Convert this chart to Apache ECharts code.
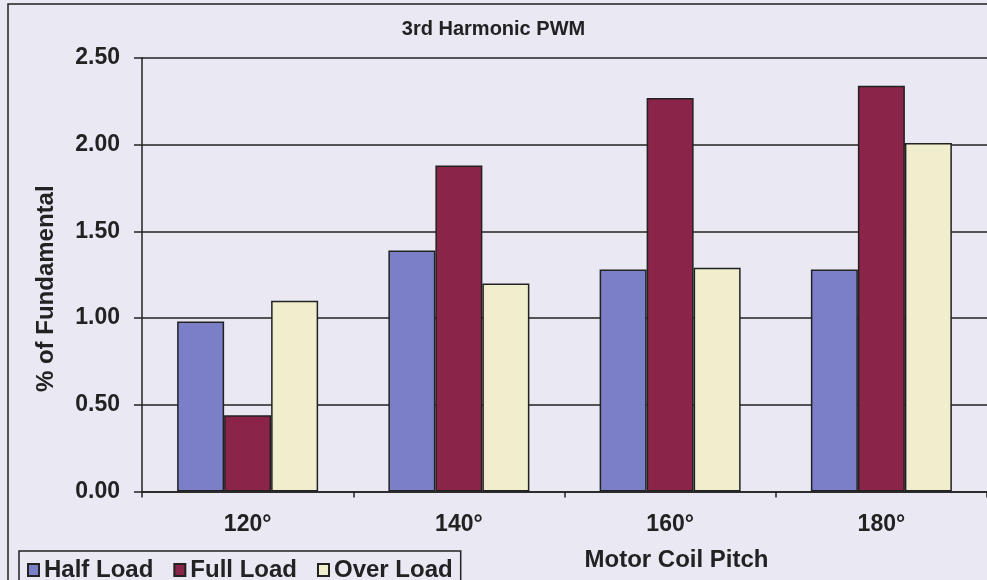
<!DOCTYPE html>
<html>
<head>
<meta charset="utf-8">
<script src="https://cdn.jsdelivr.net/npm/echarts@6/dist/echarts.min.js"></script>
<style>
  html, body { margin: 0; padding: 0; background: #e9e8f3; }
  #main { width: 987px; height: 580px; }
</style>
</head>
<body>
<div id="main"></div>
<script>
var categories = ['120°', '140°', '160°', '180°'];
var halfLoad = [0.98, 1.39, 1.28, 1.28];
var fullLoad = [0.44, 1.88, 2.27, 2.34];
var overLoad = [1.10, 1.20, 1.29, 2.01];
var yTicks = [0, 0.5, 1.0, 1.5, 2.0, 2.5];

var font = "'Liberation Sans', Arial, sans-serif";
var ink = '#222';

var myChart = echarts.init(document.getElementById('main'));

function barSeries(name, data, color) {
    return {
        name: name,
        type: 'bar',
        data: data,
        barWidth: 47,
        barGap: '0%',
        itemStyle: { color: color, borderColor: ink, borderWidth: 1.5 }
    };
}

var option = {
    backgroundColor: '#e9e8f3',
    animation: false,
    title: {
        text: '3rd Harmonic PWM',
        left: 'center',
        top: 14,
        textStyle: { fontFamily: font, fontSize: 20, fontWeight: 'bold', color: ink }
    },
    legend: {
        data: ['Half Load', 'Full Load', 'Over Load'],
        left: 19,
        top: 551,
        icon: 'rect',
        itemWidth: 11,
        itemHeight: 12,
        itemGap: 20,
        padding: [7, 8, 10, 8],
        borderColor: ink,
        borderWidth: 1.5,
        textStyle: { fontFamily: font, fontSize: 24, fontWeight: 'bold', color: ink }
    },
    grid: { left: 142, right: -3, top: 58, bottom: 88.5, containLabel: false },
    xAxis: {
        type: 'category',
        data: categories,
        name: 'Motor Coil Pitch',
        nameLocation: 'middle',
        nameGap: 57,
        nameTextStyle: { fontFamily: font, fontSize: 24, fontWeight: 'bold', color: ink, padding: [0, 0, 0, 224] },
        axisLine: { lineStyle: { color: ink, width: 1.5 } },
        axisTick: { show: true, length: 6, lineStyle: { color: ink, width: 1.5 } },
        axisLabel: { margin: 22, fontFamily: font, fontSize: 23, fontWeight: 'bold', color: ink }
    },
    yAxis: {
        type: 'value',
        min: 0,
        max: 2.5,
        interval: 0.5,
        name: '% of Fundamental',
        nameLocation: 'middle',
        nameGap: 84,
        nameTextStyle: { fontFamily: font, fontSize: 24, fontWeight: 'bold', color: ink, padding: [0, 28, 0, 0] },
        axisLine: { show: true, lineStyle: { color: ink, width: 1.5 } },
        axisTick: { show: true, length: 8, lineStyle: { color: ink, width: 1.5 } },
        axisLabel: {
            margin: 22,
            fontFamily: font, fontSize: 23, fontWeight: 'bold', color: ink,
            formatter: function (v) { return yTicks.indexOf(v) >= 0 ? v.toFixed(2) : ''; }
        },
        splitLine: { lineStyle: { color: ink, width: 1.5 } }
    },
    graphic: [{
        type: 'rect',
        shape: { x: 8, y: 4, width: 1000, height: 600 },
        style: { fill: null, stroke: ink, lineWidth: 1.5 },
        silent: true,
        z: -1
    }],
    series: [
        barSeries('Half Load', halfLoad, '#7b7fc8'),
        barSeries('Full Load', fullLoad, '#8a2448'),
        barSeries('Over Load', overLoad, '#f0eecd')
    ]
};

myChart.setOption(option);
window.onresize = myChart.resize;
</script>
</body>
</html>
